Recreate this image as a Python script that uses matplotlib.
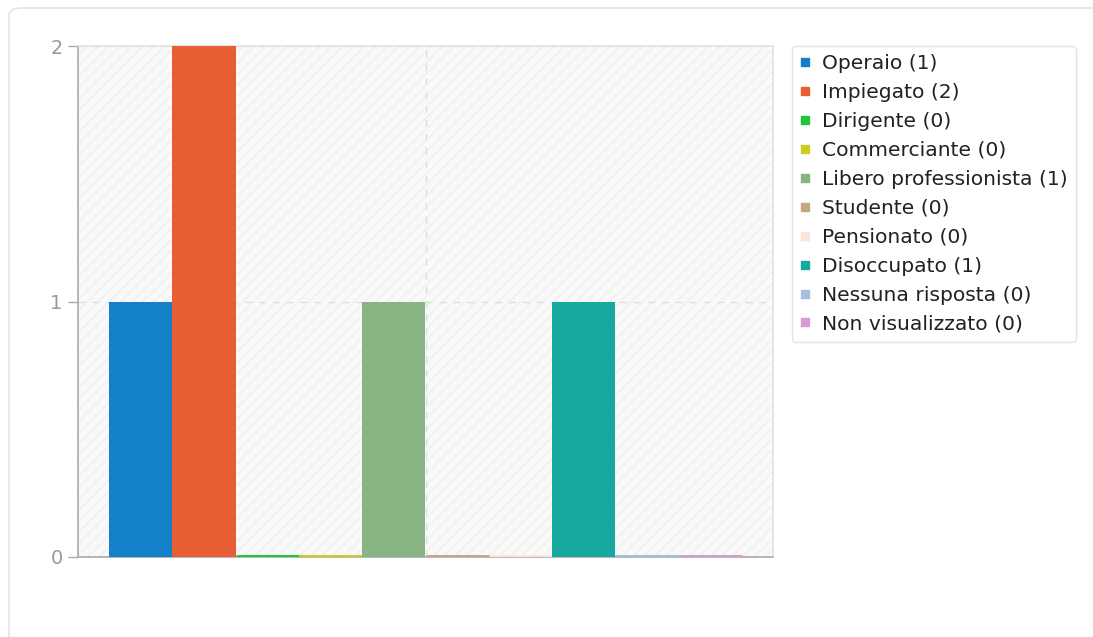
import matplotlib
matplotlib.use("Agg")
import matplotlib.pyplot as plt
from matplotlib.patches import FancyBboxPatch
from matplotlib.lines import Line2D

categories = ["Operaio", "Impiegato", "Dirigente", "Commerciante", "Libero professionista",
              "Studente", "Pensionato", "Disoccupato", "Nessuna risposta", "Non visualizzato"]
values = [1, 2, 0, 0, 1, 0, 0, 1, 0, 0]
colors = ["#1380c8", "#e85e34", "#22c53a", "#cccc1e", "#88b383",
          "#c4a882", "#fbe5da", "#17a8a0", "#a6bfdc", "#d99ad9"]
yticks = [0, 1, 2]

plt.rcParams["hatch.linewidth"] = 0.7
plt.rcParams["hatch.color"] = "#ececec"

W, H = 1093, 637
fig = plt.figure(figsize=(W / 100, H / 100), dpi=100)
fig.patch.set_facecolor("white")

# card
card = FancyBboxPatch((9 / W, -0.5), 1.2, 1 - 8 / H + 0.5,
                      boxstyle="round,pad=0,rounding_size=0.012",
                      transform=fig.transFigure, facecolor="white", edgecolor="#e4e4e4",
                      linewidth=1.2, zorder=-5)
fig.patches.append(card)

ax = fig.add_axes([78 / W, 1 - 557 / H, (773 - 78) / W, (557 - 46) / H])
ax.set_zorder(2)
ax.set_facecolor("#f9f9f9")
ax.patch.set_hatch("///")
ax.patch.set_edgecolor("#ececec")
ax.patch.set_linewidth(0)

x = list(range(len(values)))
lw = [0 if v else 3.6 for v in values]
ax.bar(x, values, width=1.0, color=colors, edgecolor=colors, linewidth=lw, zorder=3)

ax.set_xlim(-0.99, len(values) - 0.01)
ax.set_ylim(0, 2)
ax.set_yticks(yticks)
ax.set_yticklabels([str(t) for t in yticks])
ax.set_xticks([(len(values) - 1) / 2])
ax.set_xticklabels([""])
ax.tick_params(axis="x", length=0)
ax.tick_params(axis="y", length=7, width=1, color="#aaaaaa", labelcolor="#999999",
               labelsize=14, pad=4)
ax.grid(True, linestyle=(0, (5, 5)), color="#dedede", linewidth=1, zorder=1)
ax.set_axisbelow(True)
for s in ["left", "bottom"]:
    ax.spines[s].set_color("#aaaaaa")
    ax.spines[s].set_linewidth(1.2)
for s in ["top", "right"]:
    ax.spines[s].set_color("#e2e2e2")
    ax.spines[s].set_linewidth(1.2)

handles = [Line2D([0], [0], marker="s", linestyle="none", markersize=5.5,
                  markerfacecolor=c, markeredgecolor=c) for c in colors]
labels = [f"{c} ({v})" for c, v in zip(categories, values)]
leg = fig.legend(handles, labels, loc="upper left", bbox_to_anchor=(792 / W, 1 - 46 / H),
                 bbox_transform=fig.transFigure, frameon=True, fancybox=True,
                 fontsize=14.6, labelspacing=0.49, handlelength=0.5, handletextpad=0.6,
                 borderpad=0.4, borderaxespad=0, labelcolor="#222222")
leg.get_frame().set_edgecolor("#dddddd")
leg.get_frame().set_linewidth(1.0)

fig.savefig("out.png", dpi=100)
